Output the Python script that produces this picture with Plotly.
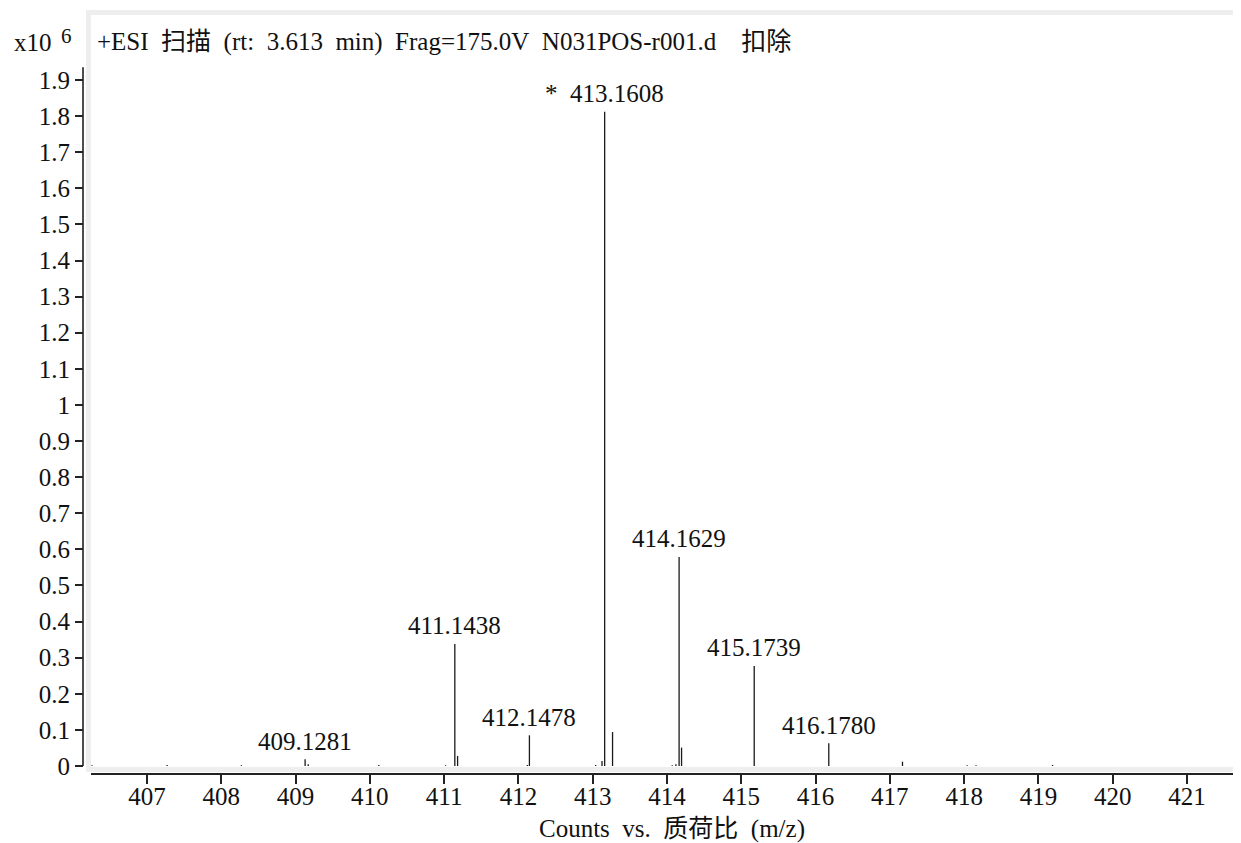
import plotly.graph_objects as go

# ---- data (intensity in units of 10^6 counts) ----
mz = [406.26, 407.27, 408.27, 409.1281, 409.17, 410.12, 411.02, 411.1438, 411.181,
      412.12, 412.1478, 413.04, 413.125, 413.1608, 413.267, 414.07, 414.12, 414.1629,
      414.196, 415.1739, 416.1780, 417.17, 418.04, 418.16, 419.19]
intensity = [0.002, 0.003, 0.002, 0.019, 0.005, 0.003, 0.002, 0.338, 0.028,
             0.003, 0.085, 0.003, 0.014, 1.812, 0.094, 0.002, 0.005, 0.579,
             0.051, 0.277, 0.063, 0.012, 0.002, 0.002, 0.003]

label_mz = [409.1281, 411.1438, 412.1478, 413.1608, 414.1629, 415.1739, 416.1780]
label_y = [0.019, 0.338, 0.085, 1.812, 0.579, 0.277, 0.063]
label_text = ["409.1281", "411.1438", "412.1478", "* 413.1608", "414.1629", "415.1739", "416.1780"]

x_ticks = [407, 408, 409, 410, 411, 412, 413, 414, 415, 416, 417, 418, 419, 420, 421]
y_ticks = [0, 0.1, 0.2, 0.3, 0.4, 0.5, 0.6, 0.7, 0.8, 0.9, 1, 1.1, 1.2, 1.3, 1.4, 1.5, 1.6, 1.7, 1.8, 1.9]
y_tick_text = ["0", "0.1", "0.2", "0.3", "0.4", "0.5", "0.6", "0.7", "0.8", "0.9", "1",
               "1.1", "1.2", "1.3", "1.4", "1.5", "1.6", "1.7", "1.8", "1.9"]

title_text = "+ESI 扫描 (rt: 3.613 min) Frag=175.0V N031POS-r001.d  扣除"
x_title = "Counts vs. 质荷比 (m/z)"

FONT = "Liberation Serif, Noto Sans CJK SC, serif"
TXT = "#111111"
WIDE_SPACE = "\u2002"  # en space, mimics the half-width spacing of the original font

# ---- geometry: page pixels (the page adds an 8px body margin) ----
OFF = 8
W, H = 1241 - OFF, 843 - OFF
ML, MR, MT, MB = 83 - OFF, 0, 15 - OFF, 69
PW, PH = W - ML - MR, H - MT - MB


def px(page_x):
    return (page_x - OFF - ML) / PW


def py(page_y):
    return (H - MB - (page_y - OFF)) / PH


xs, ys = [], []
for m, v in zip(mz, intensity):
    xs += [m, m, None]
    ys += [0, v, None]

fig = go.Figure()
fig.add_trace(go.Scatter(x=xs, y=ys, mode="lines",
                         line=dict(color="#1a1a1a", width=1.3),
                         hoverinfo="skip", showlegend=False))

annotations = []
for m, v, t in zip(label_mz, label_y, label_text):
    annotations.append(dict(x=m, y=v, xref="x", yref="y", text=t.replace(" ", WIDE_SPACE),
                            showarrow=False, yshift=18, xanchor="center", yanchor="middle",
                            font=dict(family=FONT, size=25, color=TXT)))

annotations.append(dict(x=px(95), y=py(42), xref="paper", yref="paper",
                        text=title_text.replace(" ", WIDE_SPACE),
                        showarrow=False, xanchor="left", yanchor="middle",
                        font=dict(family=FONT, size=25, color=TXT)))
annotations.append(dict(x=px(12), y=py(43), xref="paper", yref="paper", text="x10",
                        showarrow=False, xanchor="left", yanchor="middle",
                        font=dict(family=FONT, size=25, color=TXT)))
annotations.append(dict(x=px(59), y=py(36), xref="paper", yref="paper", text="6",
                        showarrow=False, xanchor="left", yanchor="middle",
                        font=dict(family=FONT, size=21, color=TXT)))
annotations.append(dict(x=px(672), y=py(829), xref="paper", yref="paper",
                        text=x_title.replace(" ", WIDE_SPACE),
                        showarrow=False, xanchor="center", yanchor="middle",
                        font=dict(family=FONT, size=25, color=TXT)))

shapes = [
    # light grey frame around the plotting region
    dict(type="rect", xref="paper", yref="paper",
         x0=px(88.5), x1=px(1250), y0=py(769.5), y1=py(12.5),
         line=dict(color="#eeeeee", width=5), fillcolor="rgba(0,0,0,0)", layer="below"),
    # y axis line
    dict(type="line", xref="paper", yref="y", x0=0, x1=0, y0=0, y1=1.935,
         line=dict(color="#222", width=1.6)),
]

fig.update_layout(
    width=W, height=H,
    margin=dict(l=ML, r=MR, t=MT, b=MB),
    paper_bgcolor="white", plot_bgcolor="white",
    showlegend=False,
    annotations=annotations,
    shapes=shapes,
    xaxis=dict(domain=[px(91), 1], range=[406.246, 421.727], anchor="free", position=0,
               showline=True, linecolor="#222", linewidth=2,
               ticks="outside", ticklen=9, tickwidth=1.5, tickcolor="#222",
               tickvals=x_ticks, ticktext=[str(t) for t in x_ticks],
               tickfont=dict(family=FONT, size=25, color=TXT),
               ticklabelstandoff=-9,
               showgrid=False, zeroline=False, fixedrange=True),
    yaxis=dict(domain=[py(766), 1], range=[0, 2.080], anchor="free", position=0,
               showline=False,
               ticks="outside", ticklen=8, tickwidth=1.5, tickcolor="#222",
               tickvals=y_ticks, ticktext=y_tick_text,
               tickfont=dict(family=FONT, size=25, color=TXT),
               showgrid=False, zeroline=False, fixedrange=True),
)

fig.write_html("out.html")
